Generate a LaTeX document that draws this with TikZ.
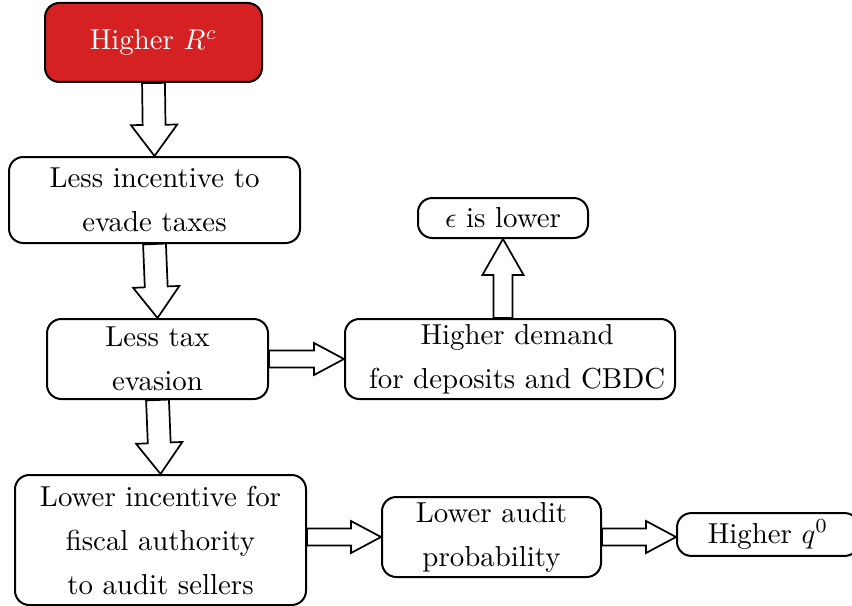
\documentclass[tikz,border=0pt]{standalone}
\usetikzlibrary{calc}
\definecolor{boxred}{RGB}{213,33,33}

% hollow block arrow: #1 start, #2 tip, #3 shaft half-width, #4 head half-width, #5 head length
\newcommand\fatarrow[5]{%
  \draw[fatline]
    ($(#1)!#3!90:(#2)$)
    -- ($(#2)!#5!(#1)!#3!-90:(#1)$)
    -- ($(#2)!#5!(#1)!#4!-90:(#1)$)
    -- (#2)
    -- ($(#2)!#5!(#1)!#4!90:(#1)$)
    -- ($(#2)!#5!(#1)!#3!90:(#1)$)
    -- ($(#1)!#3!-90:(#2)$)
    -- cycle;}

\begin{document}
\begin{tikzpicture}[
  x=0.35pt, y=-0.35pt,
  box/.style={draw, line width=0.7pt, rounded corners=5pt, align=center,
    inner sep=1pt, font=\fontsize{10.1}{15.4}\selectfont},
  redbox/.style={box, fill=boxred, text=white},
  fatline/.style={draw, fill=white, line width=0.6pt, line join=miter},
]
\useasboundingbox (0,0) rectangle (852,606);

% boxes
\node[redbox, minimum width=75.95pt, minimum height=27.65pt] (rc) at (153.5,42.5) {Higher $R^c$};
\node[box, minimum width=101.85pt, minimum height=30.1pt] (inc) at (154.5,200) {Less incentive to\\evade taxes};
\node[box, minimum width=59.5pt, minimum height=14pt] (eps) at (503,218) {$\epsilon$ is lower};
\node[box, minimum width=77.35pt, minimum height=28pt] (tax) at (157.5,359) {Less tax\\evasion};
\node[box, minimum width=115.5pt, minimum height=28pt] (dem) at (510,359)
  {\hspace*{5pt}Higher demand\\\hspace*{5pt}for deposits and CBDC};
\node[box, minimum width=101.85pt, minimum height=45.5pt] (low) at (160.5,540)
  {Lower incentive for\\fiscal authority\\to audit sellers};
\node[box, minimum width=76.65pt, minimum height=28pt] (aud) at (491.5,537) {Lower audit\\probability};
\node[box, minimum width=63.7pt, minimum height=15pt] (q) at (768,534.5) {Higher $q^0$};

% block arrows
\fatarrow{rc.south}{inc.north}{4pt}{8.1pt}{10.9pt}
\fatarrow{inc.south}{tax.north}{4pt}{8.1pt}{10.9pt}
\fatarrow{tax.south}{low.north}{4pt}{8.1pt}{10.9pt}
\fatarrow{tax.east}{dem.west}{3pt}{5.6pt}{10.5pt}
\fatarrow{eps.south |- dem.north}{eps.south}{3.3pt}{7.2pt}{12.6pt}
\fatarrow{low.east |- aud.west}{aud.west}{3pt}{5.6pt}{10.5pt}
\fatarrow{aud.east}{q.west |- aud.east}{3pt}{5.6pt}{10.5pt}
\end{tikzpicture}
\end{document}
